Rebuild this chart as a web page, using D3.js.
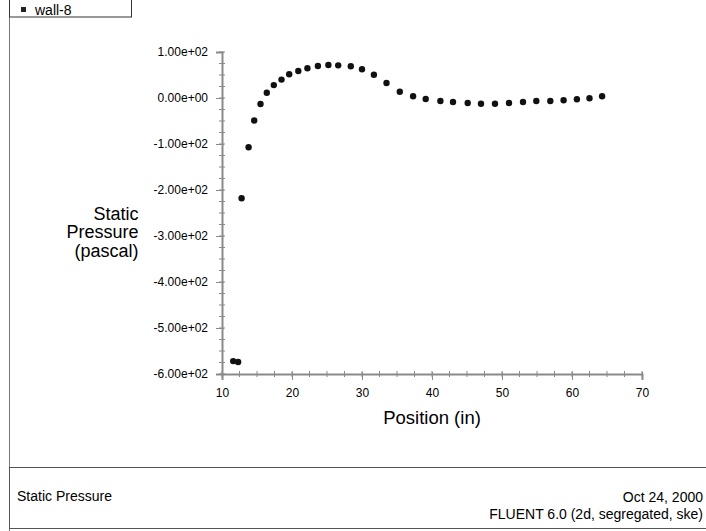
<!DOCTYPE html>
<html>
<head>
<meta charset="utf-8">
<script src="https://cdn.jsdelivr.net/npm/d3@7"></script>
<style>
  body { margin: 0; background: #fff; }
  svg { display: block; font-family: "Liberation Sans", Arial, sans-serif; }
  .axis path, .axis line { stroke: #8a8a8a; }
  .axis text { fill: #000; font-size: 12px; }
</style>
</head>
<body>
<svg id="chart" width="706" height="531"></svg>
<script>
// wall-8 samples
var positions = [11.6, 12.3, 12.8, 13.8, 14.6, 15.5, 16.4, 17.4, 18.5, 19.6, 20.9, 22.2, 23.7, 25.2, 26.6, 28.4,
  30.0, 31.7, 33.5, 35.4, 37.3, 39.1, 41.2, 43.0, 45.1, 47.0, 49.0, 51.0, 53.0, 54.9, 56.9, 58.8, 60.7, 62.5, 64.3];
var pressures = [-572, -574, -218, -107, -49, -13, 11.5, 28, 40, 51.5, 58.7, 64.6, 69.6, 71.7, 71, 69,
  62.4, 50.7, 32.6, 13.7, 3.7, -2.2, -6.5, -8.7, -10.9, -12.4, -12.4, -10.9, -8.7, -6.5, -6.5, -5, -2.8, -0.7, 3.7];
var xTicks = [10, 20, 30, 40, 50, 60, 70];
var yTicks = [100, 0, -100, -200, -300, -400, -500, -600];
var seriesName = "wall-8";

var svg = d3.select("#chart");
var W = 706, H = 531;

var x = d3.scaleLinear().domain([10, 70]).range([222, 642]);
var y = d3.scaleLinear().domain([-600, 100]).range([374, 52]);

function expFmt(v) {
  var s = v.toExponential(2);
  return s.replace(/e([+-])(\d)$/, "e$10$2");
}

// frame
svg.append("line").attr("x1", 9.5).attr("x2", 9.5).attr("y1", 0).attr("y2", H)
  .attr("stroke", "#777").attr("stroke-width", 1);

// legend box
svg.append("rect").attr("x", 9.5).attr("y", -2).attr("width", 122).attr("height", 19)
  .attr("fill", "#fff").attr("stroke", "#333").attr("stroke-width", 1);
svg.append("rect").attr("x", 21).attr("y", 7).attr("width", 5).attr("height", 5).attr("fill", "#222");
svg.append("text").attr("x", 35).attr("y", 14.5).attr("font-size", 14).text(seriesName);

// minor ticks (both sides of the axis line)
var xMinor = d3.range(10, 70.01, 2.5);
var yMinor = d3.range(-600, 100.01, 25);

svg.append("g").selectAll("line").data(xMinor).enter().append("line")
  .attr("x1", function(d) { return x(d); }).attr("x2", function(d) { return x(d); })
  .attr("y1", y(-600) - 3).attr("y2", y(-600) + 3)
  .attr("stroke", "#8a8a8a");
svg.append("g").selectAll("line").data(yMinor).enter().append("line")
  .attr("y1", function(d) { return y(d); }).attr("y2", function(d) { return y(d); })
  .attr("x1", x(10) - 3).attr("x2", x(10) + 3)
  .attr("stroke", "#8a8a8a");

var gx = svg.append("g").attr("class", "axis")
  .attr("transform", "translate(0," + y(-600) + ")")
  .call(d3.axisBottom(x).tickValues(xTicks).tickSizeOuter(0).tickSize(6).tickPadding(8));
gx.select(".domain").attr("stroke-width", 2);
gx.selectAll(".tick line").attr("y1", -2).attr("y2", 6);

var gy = svg.append("g").attr("class", "axis")
  .attr("transform", "translate(" + x(10) + ",0)")
  .call(d3.axisLeft(y).tickValues(yTicks).tickFormat(expFmt).tickSizeOuter(0).tickSize(6).tickPadding(8));
gy.select(".domain").attr("stroke-width", 2);
gy.selectAll(".tick line").attr("x1", 2).attr("x2", -6);

// axis titles
svg.append("text").attr("x", 432).attr("y", 424).attr("text-anchor", "middle")
  .attr("font-size", 18.5).text("Position (in)");
var yl = svg.append("text").attr("text-anchor", "end").attr("font-size", 18);
["Static", "Pressure", "(pascal)"].forEach(function(t, i) {
  yl.append("tspan").attr("x", 138.5).attr("y", 219.5 + i * 18.5).text(t);
});

// points
svg.append("g").selectAll("circle").data(positions).enter().append("circle")
  .attr("cx", function(d) { return x(d); })
  .attr("cy", function(d, i) { return y(pressures[i]); })
  .attr("r", 3.2).attr("fill", "#111");

// footer box
svg.append("rect").attr("x", 9.5).attr("y", 467.5).attr("width", 710).attr("height", 61)
  .attr("fill", "none").attr("stroke", "#555").attr("stroke-width", 1);
svg.append("text").attr("x", 17).attr("y", 501).attr("font-size", 14).text("Static Pressure");
svg.append("text").attr("x", 703).attr("y", 502).attr("text-anchor", "end").attr("font-size", 14).text("Oct 24, 2000");
svg.append("text").attr("x", 703).attr("y", 519).attr("text-anchor", "end").attr("font-size", 14).text("FLUENT 6.0 (2d, segregated, ske)");
</script>
</body>
</html>
